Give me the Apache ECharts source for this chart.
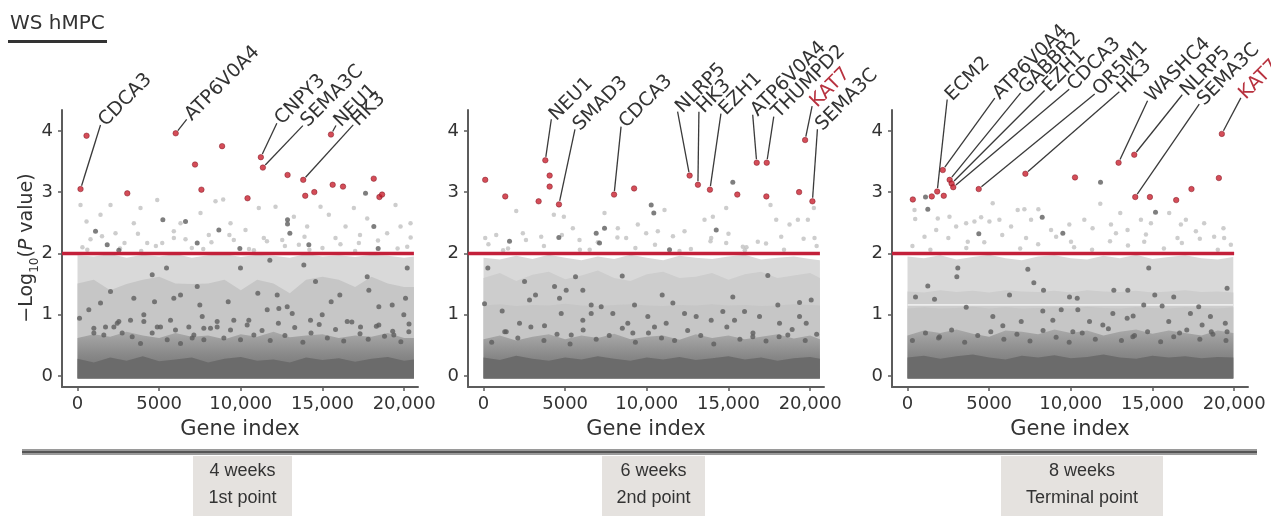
<!DOCTYPE html>
<html><head><meta charset="utf-8">
<script src="https://cdn.jsdelivr.net/npm/echarts@6/dist/echarts.min.js"></script>
<style>html,body{margin:0;padding:0;background:#fff}#c{width:1271px;height:516px}</style>
</head><body><div id="c"></div>
<script>
// ---------------- data ----------------
const figureTitle = 'WS hMPC';
const yAxisTitle = '{t|−Log}{s|10}{t|(}{i|P}{t| value)}';
const xAxisTitle = 'Gene index';
const stageLine1 = ['4 weeks', '6 weeks', '8 weeks'];
const stageLine2 = ['1st point', '2nd point', 'Terminal point'];
const xTicks = [0, 5000, 10000, 15000, 20000];
const yTicks = [0, 1, 2, 3, 4];
const threshold = 2;
const thresholdEnd = [20600, 20600, 20000];

// envelopes of the dense point clouds (gene index positions)
const envGeneA = [0,1000,2000,3000,4000,5000,6000,7000,8000,9000,10000,11000,12000,13000,14000,15000,16000,17000,18000,19000,20000,20600];
const envGeneB = [0,1000,2000,3000,4000,5000,6000,7000,8000,9000,10000,11000,12000,13000,14000,15000,16000,17000,18000,19000,19950];

// panel 1 (4 weeks)
const p1Outer = [1.97,1.95,1.99,1.93,1.98,1.95,1.99,1.93,1.97,1.99,1.94,1.98,1.96,1.93,1.99,1.95,1.97,1.94,1.98,1.96,1.93,1.95];
const p1Solid = [1.51,1.57,1.40,1.50,1.57,1.62,1.51,1.50,1.51,1.57,1.40,1.57,1.51,1.35,1.57,1.62,1.57,1.45,1.62,1.51,1.45,1.45];
const p1Mix   = [0.62,0.68,0.64,0.72,0.66,0.62,0.70,0.64,0.66,0.60,0.68,0.64,0.72,0.63,0.66,0.68,0.62,0.66,0.64,0.70,0.62,0.62];
const p1Dark  = [0.28,0.22,0.30,0.25,0.32,0.24,0.27,0.30,0.22,0.28,0.31,0.25,0.27,0.22,0.30,0.26,0.29,0.23,0.28,0.31,0.25,0.27];
const p1RedGene = [184,552,3047,6012,7196,7587,8853,10411,11227,11350,12862,13822,13945,14500,15521,15624,16258,18140,18487,18650];
const p1RedVal  = [3.05,3.92,2.98,3.96,3.45,3.04,3.75,2.90,3.57,3.40,3.28,3.20,2.94,3.00,3.94,3.12,3.09,3.22,2.92,2.96];
const p1DarkGene = [1102,1818,2530,5226,6613,7330,8655,9940,12860,12860,13003,14165,18145,18410,17636,122,692,2020,1408,3448,4574,4715,5450,6307,5897,7330,7490,7636,9980,9228,11041,11777,12229,12329,12840,13858,14574,15533,16064,17739,17840,18451,19270,19981,20086,20190,20288,19370,18451,17330,16515,14984,14268,13147,11616,10490,9571,8551,7735,7021,5695,4881,4060,3246,2431,1715,1000,
  1000,1612,2225,2530,2735,3348,4062,3858,4572,5082,5492,6000,6307,6817,7124,7736,8144,8552,8961,9369,9982,10390,10798,11300,11800,12300,12700,13300,13800,14300,14800,15300,15800,16300,16800,17300,17800,18300,18800,19300,19800,20300];
const p1DarkVal  = [2.36,2.14,2.05,2.55,2.52,2.17,2.38,2.08,2.55,2.48,2.33,2.14,2.44,2.08,2.98,0.94,1.08,1.38,1.19,1.27,1.65,1.21,1.76,1.32,1.27,1.46,1.16,0.97,1.76,1.21,1.35,1.89,1.32,1.10,1.13,1.81,1.54,1.21,1.32,1.62,1.40,1.13,1.16,1.00,1.27,1.76,0.72,0.67,0.83,0.80,0.89,1.00,0.91,1.02,1.08,0.91,0.91,0.80,0.78,0.62,0.91,0.80,1.00,0.91,0.86,0.80,0.70,
  0.78,0.67,0.80,0.89,0.70,0.64,0.89,0.53,0.70,0.80,0.59,0.75,0.53,0.80,0.67,0.59,0.78,0.89,0.62,0.75,0.59,0.83,0.67,0.74,0.58,0.86,0.66,0.79,0.55,0.70,0.84,0.62,0.76,0.57,0.88,0.69,0.60,0.81,0.65,0.73,0.56,0.85];
const p1LightGene = [184,551,796,1408,2020,2327,2878,3448,3858,4268,4881,5187,5897,6307,6613,7532,8040,8450,8920,9369,9571,10288,11102,11409,12125,12535,13250,13556,14063,14881,15390,15798,16412,16922,17228,17739,18960,19474,19780,20392,20190,600,3900,7700,10800,14200,17000,
  300,1500,2600,3700,4800,5900,7000,8200,9300,10500,11600,12700,13900,15000,16100,17300,18400,19600,20400];
const p1LightVal  = [2.79,2.52,2.23,2.63,2.79,2.33,2.17,2.49,2.74,2.17,2.87,2.17,2.36,2.49,2.23,2.66,2.30,2.85,2.88,2.49,2.22,2.38,2.74,2.25,2.76,2.22,2.60,2.14,2.44,2.76,2.63,2.25,2.44,2.74,2.17,2.57,2.33,2.79,2.44,2.49,2.11,2.06,2.04,2.07,2.05,2.06,2.04,
  2.10,2.28,2.08,2.32,2.12,2.25,2.09,2.18,2.30,2.07,2.20,2.12,2.27,2.09,2.15,2.30,2.21,2.08,2.26];
const p1LabName = ['CDCA3','ATP6V0A4','CNPY3','SEMA3C','NEU1','HK3'];
const p1LabGene = [184,6012,11227,11350,15521,13822];
const p1LabVal  = [3.05,3.96,3.57,3.40,3.94,3.20];

// panel 2 (6 weeks)
const p2Outer = [1.93,1.90,1.96,1.91,1.98,1.93,1.89,1.95,1.91,1.98,1.93,1.89,1.96,1.93,1.91,1.95,1.98,1.90,1.93,1.95,1.91,1.89];
const p2Mid   = [1.60,1.68,1.55,1.65,1.70,1.58,1.64,1.72,1.60,1.55,1.66,1.70,1.60,1.62,1.68,1.57,1.66,1.70,1.60,1.64,1.68,1.60];
const p2Solid = [1.15,1.17,1.14,1.16,1.15,1.18,1.15,1.14,1.16,1.17,1.15,1.14,1.16,1.15,1.17,1.15,1.16,1.14,1.15,1.17,1.16,1.15];
const p2Mix   = [0.60,0.66,0.58,0.64,0.68,0.60,0.66,0.62,0.69,0.60,0.64,0.66,0.59,0.68,0.62,0.66,0.60,0.64,0.68,0.61,0.66,0.60];
const p2Dark  = [0.30,0.26,0.33,0.28,0.25,0.30,0.27,0.32,0.28,0.25,0.30,0.27,0.31,0.26,0.29,0.32,0.27,0.30,0.25,0.29,0.31,0.28];
const p2RedGene = [104,1331,3374,3785,4049,4049,4620,7994,9221,12620,13129,13865,15540,16730,17344,17320,19325,19693,20141];
const p2RedVal  = [3.20,2.93,2.85,3.52,3.27,3.09,2.80,2.96,3.06,3.27,3.12,3.04,2.96,3.48,3.48,2.93,3.00,3.85,2.85];
const p2DarkGene = [15266,10269,10428,7410,6900,7103,4613,1592,14250,11390,265,2511,3184,2817,4348,4654,5063,5634,6081,6594,7207,8494,9247,10943,11594,15266,17410,18022,19351,61,1143,2204,3735,4758,6081,6594,7918,8836,10061,10470,11186,12309,13023,13942,14654,15370,15983,16901,18126,19351,19761,20067,1390,5371,9143,16491,18634,
  500,1300,2100,2900,3700,4500,5300,6100,6900,7700,8500,9300,10100,10900,11700,12500,13300,14100,14900,15700,16500,17300,18100,18900,19700,20400];
const p2DarkVal  = [3.16,2.79,2.66,2.41,2.33,2.17,2.26,2.20,2.38,2.06,1.76,1.54,1.32,1.24,1.46,1.27,1.40,1.62,1.40,1.16,1.13,1.63,1.16,1.32,1.19,1.29,1.64,1.16,1.20,1.18,1.06,0.86,0.82,1.02,0.91,1.02,1.02,0.86,0.97,0.80,0.86,1.02,0.97,0.91,1.05,0.91,1.05,0.97,0.86,0.97,0.86,1.24,0.72,0.67,0.70,0.64,0.67,
  0.55,0.72,0.62,0.80,0.58,0.68,0.52,0.75,0.60,0.66,0.78,0.55,0.70,0.62,0.58,0.74,0.66,0.52,0.80,0.60,0.70,0.57,0.64,0.76,0.58,0.68];
const p2LightGene = [104,778,2003,2409,3533,4307,4920,5470,5879,7410,8225,8735,9449,9960,10674,11084,12309,13533,14044,14860,13942,14860,15879,16797,17575,17924,18740,19250,19862,20230,20270,18230,1200,6500,12000,16000,
  300,1500,2600,3700,4800,5900,7000,8200,9300,10500,11600,12700,13900,15000,16100,17300,18400,19600,20400];
const p2LightVal  = [2.25,2.30,2.69,2.33,2.27,2.63,2.60,2.41,2.22,2.66,2.41,2.25,2.47,2.33,2.36,2.71,2.36,2.55,2.60,2.74,2.25,2.17,2.11,2.19,2.79,2.55,2.47,2.55,2.55,2.74,2.25,2.27,2.05,2.06,2.04,2.05,
  2.15,2.08,2.22,2.12,2.30,2.06,2.18,2.26,2.09,2.14,2.28,2.07,2.20,2.32,2.10,2.16,2.06,2.24,2.12];
const p2LabName = ['NEU1','SMAD3','CDCA3','NLRP5','HK3','EZH1','ATP6V0A4','THUMPD2','KAT7','SEMA3C'];
const p2LabGene = [3785,4620,7994,12620,13129,13865,16730,17344,19693,20141];
const p2LabVal  = [3.52,2.80,2.96,3.27,3.12,3.04,3.48,3.48,3.85,2.85];

// panel 3 (8 weeks)
const p3Outer = [1.95,1.92,1.97,1.90,1.94,1.98,1.92,1.89,1.95,1.97,1.92,1.90,1.96,1.92,1.98,1.91,1.94,1.97,1.92,1.90,1.94];
const p3Mid   = [1.38,1.36,1.40,1.37,1.39,1.36,1.40,1.38,1.37,1.39,1.36,1.40,1.38,1.37,1.39,1.36,1.38,1.40,1.37,1.38,1.36];
const p3Gap   = 1.16;
const p3Solid = [1.10,1.12,1.10,1.11,1.13,1.10,1.12,1.10,1.11,1.12,1.10,1.13,1.11,1.10,1.12,1.11,1.10,1.12,1.11,1.10,1.12];
const p3Mix   = [0.66,0.74,0.70,0.76,0.69,0.64,0.74,0.72,0.68,0.76,0.70,0.74,0.66,0.72,0.76,0.69,0.74,0.70,0.66,0.74,0.70];
const p3Dark  = [0.30,0.33,0.28,0.32,0.35,0.30,0.27,0.33,0.30,0.34,0.29,0.31,0.35,0.30,0.28,0.33,0.30,0.32,0.29,0.31,0.30];
const p3RedGene = [326,1486,1817,2160,2220,2580,2700,2800,4360,7217,10257,12924,13884,13946,14844,16453,17388,19065,19248];
const p3RedVal  = [2.88,2.93,3.01,3.36,2.94,3.20,3.14,3.08,3.05,3.30,3.24,3.48,3.61,2.92,2.92,2.87,3.05,3.23,3.95];
const p3DarkGene = [11818,15186,1243,8248,4366,9510,1102,3080,3019,1243,490,1653,3594,5224,5836,6963,6246,7367,8285,7735,8328,8898,9412,9920,10392,10429,11145,11960,12634,12573,13491,13450,13817,14466,14772,15140,15593,15997,16303,17324,17832,18040,18549,19568,19460,19568,18600,1960,10123,13797,16658,
  300,1100,1900,2700,3500,4300,5100,5900,6700,7500,8300,9100,9900,10700,11500,12300,13100,13900,14700,15500,16300,17100,17900,18700,19500];
const p3DarkVal  = [3.16,2.67,2.72,2.59,2.32,2.33,2.92,1.76,1.62,1.47,1.29,1.25,1.12,0.97,0.82,0.89,1.32,1.74,1.06,1.52,1.40,0.91,1.08,1.29,1.27,1.08,0.89,0.83,1.40,1.02,1.40,0.94,0.98,1.16,1.76,1.32,1.14,0.89,1.29,1.02,1.13,0.83,0.97,1.43,0.86,0.72,0.72,0.64,0.72,0.64,0.70,
  0.58,0.70,0.62,0.75,0.55,0.66,0.72,0.60,0.68,0.57,0.74,0.63,0.55,0.70,0.60,0.77,0.58,0.66,0.72,0.56,0.64,0.75,0.60,0.68,0.58];
const p3LightGene = [428,471,1853,2569,1755,2978,3590,4098,4508,5217,5015,5627,6342,6748,7156,7566,8012,8789,9908,10826,11333,11804,12458,12764,13027,13475,14293,14905,16024,16740,17046,17658,18165,18777,19346,19388,1040,3690,7260,10012,14495,16533,
  300,1400,2500,3600,4700,5800,6900,8000,9100,10200,11300,12400,13500,14600,15700,16800,17900,19000,19800];
const p3LightVal  = [2.71,2.56,2.57,2.60,2.38,2.44,2.49,2.52,2.59,2.82,2.52,2.55,2.44,2.71,2.72,2.55,2.72,2.38,2.47,2.55,2.41,2.81,2.47,2.33,2.66,2.38,2.55,2.49,2.66,2.47,2.55,2.36,2.49,2.27,2.41,2.25,2.27,2.19,2.25,2.19,2.19,2.25,
  2.12,2.06,2.25,2.09,2.18,2.30,2.08,2.15,2.27,2.10,2.06,2.20,2.13,2.31,2.08,2.17,2.24,2.06,2.14];
const p3LabName = ['ECM2','ATP6V0A4','GABBR2','EZH1','CDCA3','OR5M1','HK3','WASHC4','NLRP5','SEMA3C','KAT7'];
const p3LabGene = [1817,2160,2580,2700,2800,4360,7217,12924,13884,13946,19248];
const p3LabVal  = [3.01,3.36,3.20,3.14,3.08,3.05,3.30,3.48,3.61,2.92,3.95];
const highlightGenes = ['KAT7'];

// ---------------- layout (pixel offsets of label line ends) ----------------
const p1LabOff = [[20,-64],[11,-14],[16,-34],[40,-42],[5,-9],[50,-55]];
const p2LabOff = [[6,-41],[16,-75],[7,-68],[-12,-64],[1,-73],[11,-76],[-4,-48],[7,-46],[7,-34],[5,-72]];
const p3LabOff = [[10,-92],[52,-72],[71,-87],[93,-93],[116,-98],[116,-95],[94,-82],[29,-62],[48,-60],[64,-93],[19,-36]];

const gridLeft = [62, 468, 892];
const GRID_TOP = 110, GRID_H = 277, GRID_W = 356;
const X_MIN = -950, X_MAX = 20850, Y_MIN = -0.18, Y_MAX = 4.34;
const FONT = 'DejaVu Sans';
const C = {outer:'#d9d9d9', mid:'#cdcdcd', solid:'#c6c6c6', gap:'#ececec', dark:'#6b6b6b',
  lightPt:'#c0c0c0', darkPt:'#5e5e5e', red:'#c9202e', thr:'#c3203a', axis:'#5c5c5c', text:'#333333', hl:'#b8323f'};
C.mix = new echarts.graphic.LinearGradient(0, 0, 0, 1, [{offset:0, color:'#a9a9a9'}, {offset:0.5, color:'#888888'}, {offset:1, color:'#6e6e6e'}]);

const panels = [
  {env: envGeneA, layers: [['outer',p1Outer],['solid',p1Solid],['mix',p1Mix],['dark',p1Dark]], gap: null,
   red:[p1RedGene,p1RedVal], darkPts:[p1DarkGene,p1DarkVal], lightPts:[p1LightGene,p1LightVal],
   lab:[p1LabName,p1LabGene,p1LabVal,p1LabOff]},
  {env: envGeneA, layers: [['outer',p2Outer],['mid',p2Mid],['solid',p2Solid],['mix',p2Mix],['dark',p2Dark]], gap: null,
   red:[p2RedGene,p2RedVal], darkPts:[p2DarkGene,p2DarkVal], lightPts:[p2LightGene,p2LightVal],
   lab:[p2LabName,p2LabGene,p2LabVal,p2LabOff]},
  {env: envGeneB, layers: [['outer',p3Outer],['mid',p3Mid],['gapline',null],['solid',p3Solid],['mix',p3Mix],['dark',p3Dark]], gap: p3Gap,
   red:[p3RedGene,p3RedVal], darkPts:[p3DarkGene,p3DarkVal], lightPts:[p3LightGene,p3LightVal],
   lab:[p3LabName,p3LabGene,p3LabVal,p3LabOff]}
];

const zip = (g, v) => g.map((x, k) => [x, v[k]]);
const fmtX = v => v >= 10000 ? String(v).replace(/(\d)(?=(\d{3})+$)/g, '$1,') : String(v);

const grids = [], xAxes = [], yAxes = [], series = [];
panels.forEach((p, i) => {
  grids.push({left: gridLeft[i], top: GRID_TOP, width: GRID_W, height: GRID_H});
  xAxes.push({type:'value', gridIndex:i, min:X_MIN, max:X_MAX,
    axisLine:{show:true, onZero:false, lineStyle:{color:C.axis, width:2}},
    axisTick:{show:true, customValues:xTicks, length:4, lineStyle:{color:C.axis, width:1.5}},
    axisLabel:{customValues:xTicks, formatter:fmtX, fontSize:18, fontFamily:FONT, color:C.text, margin:8},
    splitLine:{show:false},
    name:xAxisTitle, nameLocation:'middle', nameGap:32,
    nameTextStyle:{fontSize:21, fontFamily:FONT, color:C.text}});
  yAxes.push({type:'value', gridIndex:i, min:Y_MIN, max:Y_MAX,
    axisLine:{show:true, onZero:false, lineStyle:{color:C.axis, width:2}},
    axisTick:{show:true, customValues:yTicks, length:4, lineStyle:{color:C.axis, width:1.5}},
    axisLabel:{customValues:yTicks, fontSize:18, fontFamily:FONT, color:C.text, margin:9},
    splitLine:{show:false}});

  const endG = p.env[p.env.length - 1];
  p.layers.forEach(([kind, arr]) => {
    if (kind === 'gapline') {
      series.push({type:'line', xAxisIndex:i, yAxisIndex:i, silent:true, symbol:'none', z:1,
        data:[[0,p.gap],[endG,p.gap]], lineStyle:{color:C.gap, width:1.6}});
      return;
    }
    series.push({type:'line', xAxisIndex:i, yAxisIndex:i, silent:true, symbol:'none', z:1,
      data: zip(p.env, arr), lineStyle:{width:0}, areaStyle:{color:C[kind], opacity:1, origin:-0.04}});
  });
  series.push({type:'scatter', xAxisIndex:i, yAxisIndex:i, silent:true, z:2, symbolSize:4.5,
    itemStyle:{color:C.lightPt}, data: zip(p.lightPts[0], p.lightPts[1])});
  series.push({type:'scatter', xAxisIndex:i, yAxisIndex:i, silent:true, z:3, symbolSize:5,
    itemStyle:{color:C.darkPt}, data: zip(p.darkPts[0], p.darkPts[1])});
  series.push({type:'line', xAxisIndex:i, yAxisIndex:i, silent:true, symbol:'none', z:4,
    data:[[X_MIN,threshold],[thresholdEnd[i],threshold]], lineStyle:{color:C.thr, width:3.5}});
  series.push({type:'scatter', xAxisIndex:i, yAxisIndex:i, silent:true, z:5, symbolSize:5.5,
    itemStyle:{color:C.red, borderColor:'#7d1420', borderWidth:0.6}, data: zip(p.red[0], p.red[1])});
  const [names, lg, lv, offs] = p.lab;
  series.push({type:'custom', xAxisIndex:i, yAxisIndex:i, silent:true, clip:false, z:6,
    data: zip(lg, lv),
    renderItem: (params, api) => {
      const k = params.dataIndex;
      const pt = api.coord([api.value(0), api.value(1)]);
      const o = offs[k];
      const ex = pt[0] + o[0], ey = pt[1] + o[1];
      const len = Math.hypot(o[0], o[1]);
      const sx = pt[0] + o[0] / len * 3.5, sy = pt[1] + o[1] / len * 3.5;
      const hl = highlightGenes.indexOf(names[k]) >= 0;
      return {type:'group', children:[
        {type:'line', shape:{x1:sx, y1:sy, x2:ex, y2:ey}, style:{stroke:'#3a3a3a', lineWidth:1.3}},
        {type:'text', x:ex + 1.5, y:ey - 1.5, rotation:Math.PI / 4,
          style:{text:names[k], x:0, y:0, align:'left', verticalAlign:'middle',
            fill: hl ? C.hl : C.text, fontSize:19, fontFamily:FONT}}
      ]};
    }});
});

const base = {fontSize:19, fontFamily:FONT, fill:C.text, padding:[0,0,4,0], verticalAlign:'bottom'};
const boxX = [193, 602, 1001], boxW = [99, 103, 162];
const graphic = [
  {type:'text', left:10, top:14, style:{text:figureTitle, fontSize:20, fontFamily:FONT, fill:C.text}},
  {type:'rect', shape:{x:8, y:40, width:99, height:3}, style:{fill:'#333'}},
  {type:'text', x:29, y:248, rotation:Math.PI / 2,
    style:{text:yAxisTitle, align:'center', verticalAlign:'middle',
      rich:{t:base, i:Object.assign({}, base, {fontStyle:'italic'}),
        s:{fontSize:12, fontFamily:FONT, fill:C.text, verticalAlign:'bottom'}}}},
  {type:'rect', shape:{x:22, y:449, width:1235, height:6}, style:{fill:'#9a9a9a'}},
  {type:'rect', shape:{x:22, y:451, width:1235, height:2}, style:{fill:'#555'}}
];
stageLine1.forEach((t, i) => {
  graphic.push({type:'rect', shape:{x:boxX[i], y:456, width:boxW[i], height:60}, style:{fill:'#e5e2df'}});
  graphic.push({type:'text', x:boxX[i] + boxW[i] / 2, y:471,
    style:{text:t, align:'center', verticalAlign:'middle', fontSize:18, fontFamily:'Liberation Sans', fill:C.text}});
  graphic.push({type:'text', x:boxX[i] + boxW[i] / 2, y:498,
    style:{text:stageLine2[i], align:'center', verticalAlign:'middle', fontSize:18, fontFamily:'Liberation Sans', fill:C.text}});
});

const chart = echarts.init(document.getElementById('c'), null, {renderer:'canvas'});
chart.setOption({animation:false, backgroundColor:'#fff', grid:grids, xAxis:xAxes, yAxis:yAxes, series, graphic});
</script></body></html>
